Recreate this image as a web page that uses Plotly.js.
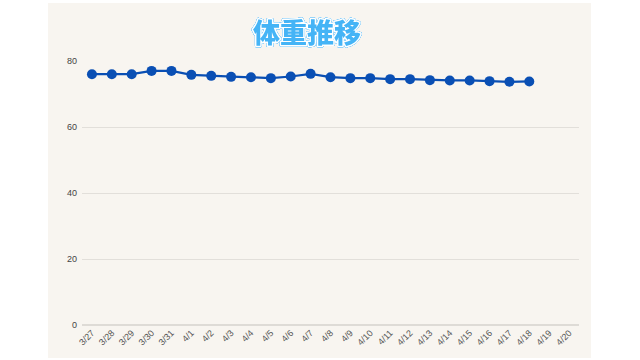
<!DOCTYPE html>
<html><head><meta charset="utf-8">
<script src="https://cdn.plot.ly/plotly-3.0.1.min.js"></script>
<style>
html,body{margin:0;padding:0;background:#ffffff;width:640px;height:360px;overflow:hidden;}
#chart{position:absolute;left:48px;top:3px;width:543px;height:355px;}
#chart .gtitle{paint-order:stroke fill;stroke:#ffffff !important;stroke-width:3px !important;stroke-linejoin:round;
  filter:drop-shadow(0 0 0.6px #5cbcf8) drop-shadow(0 0 0.6px #5cbcf8) drop-shadow(0 0 0.5px #5cbcf8);}
</style></head><body>
<div id="chart"></div>
<script>
const dates = ["3/27","3/28","3/29","3/30","3/31","4/1","4/2","4/3","4/4","4/5","4/6","4/7","4/8","4/9","4/10","4/11","4/12","4/13","4/14","4/15","4/16","4/17","4/18","4/19","4/20"];
const weights = [76.0,76.0,76.0,77.0,77.0,75.8,75.5,75.2,75.1,74.8,75.3,76.1,75.1,74.8,74.8,74.5,74.5,74.2,74.1,74.1,73.9,73.7,73.8,null,null];
const yTicks = [0,20,40,60,80];
const titleText = "体重推移";

const trace = {
  x: dates, y: weights, type: "scatter", mode: "lines+markers",
  line: {color: "#0a4fb4", width: 2.2},
  marker: {color: "#0a4fb4", size: 10},
  connectgaps: false, hoverinfo: "x+y"
};
const layout = {
  width: 543, height: 355,
  paper_bgcolor: "#f8f5f0", plot_bgcolor: "#f8f5f0",
  margin: {l: 34, r: 12, t: 58, b: 33},
  showlegend: false,
  title: {
    text: titleText, x: 0.477, xanchor: "center", y: 0.913, yanchor: "middle",
    font: {family: "Noto Sans CJK JP", size: 27, color: "#45b4f6", weight: 900}
  },
  xaxis: {
    type: "category", categoryarray: dates, range: [-0.5, dates.length - 0.5],
    tickangle: -45, showgrid: false, zeroline: false, showline: false, ticks: "",
    tickfont: {family: "Liberation Sans, Arial", size: 9, color: "#555"}
  },
  yaxis: {
    range: [0, 80], tickvals: yTicks, ticktext: yTicks.map(String),
    showgrid: true, gridcolor: "#e2dfda", gridwidth: 1,
    zeroline: true, zerolinecolor: "#dedbd6", zerolinewidth: 2,
    showline: false, ticks: "", ticklabelstandoff: 4,
    tickfont: {family: "Liberation Sans, Arial", size: 9, color: "#444"}
  }
};
Plotly.newPlot("chart", [trace], layout, {displayModeBar: false, staticPlot: true});
</script></body></html>
